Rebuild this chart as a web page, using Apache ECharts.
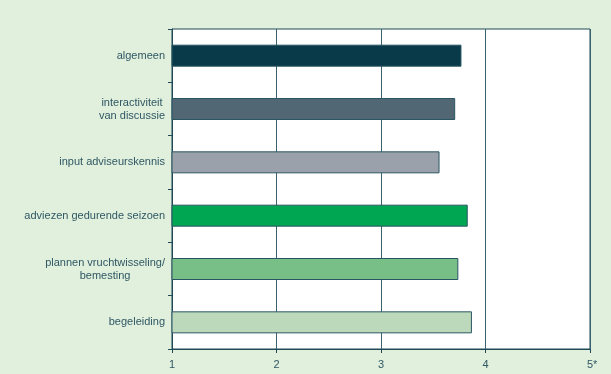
<!DOCTYPE html>
<html>
<head>
<meta charset="utf-8">
<script src="https://cdn.jsdelivr.net/npm/echarts@6/dist/echarts.min.js"></script>
<style>
  html, body { margin: 0; padding: 0; background: #e1efdd; }
  #chart { width: 611px; height: 374px; }
</style>
</head>
<body>
<div id="chart"></div>
<script>
const categories = [
  'algemeen',
  'interactiviteit\nvan discussie',
  'input adviseurskennis',
  'adviezen gedurende seizoen',
  'plannen vruchtwisseling/\nbemesting',
  'begeleiding'
]
const scores = [3.77, 3.71, 3.56, 3.83, 3.74, 3.87]
const barColors = ['#083a4a', '#526774', '#9aa1ab', '#00a651', '#78be87', '#bcdabb']
const tickLabels = ['1', '2', '3', '4', '5']

const chart = echarts.init(document.getElementById('chart'))

const textColor = '#2f5863'
const lineColor = '#1f4a56'

chart.setOption({
  backgroundColor: '#e1efdd',
  animation: false,
  grid: {
    left: 172,
    right: 21,
    top: 29,
    bottom: 25,
    show: true,
    backgroundColor: '#ffffff',
    borderColor: lineColor,
    borderWidth: 1
  },
  xAxis: {
    type: 'value',
    min: 1,
    max: 5,
    interval: 1,
    axisLine: {show: true, lineStyle: {color: lineColor}},
    axisTick: {show: true, length: 4, lineStyle: {color: lineColor}},
    splitLine: {show: true, lineStyle: {color: '#3a6270', width: 1}},
    axisLabel: {
      color: textColor,
      fontFamily: 'Liberation Sans, Arial',
      fontSize: 11,
      margin: 9,
      formatter: (v) => {
        const label = '{n|' + tickLabels[Math.round(v) - 1] + '}'
        // last tick carries an asterisk; a hidden twin keeps the digit centred
        return v === 5 ? '{h|*}' + label + '{s|*}' : label
      },
      rich: {
        n: {fontSize: 11, lineHeight: 14, color: textColor, fontFamily: 'Liberation Sans, Arial'},
        s: {fontSize: 11, lineHeight: 14, color: textColor, fontFamily: 'Liberation Sans, Arial'},
        h: {fontSize: 11, lineHeight: 14, color: 'rgba(0,0,0,0)', fontFamily: 'Liberation Sans, Arial'}
      }
    }
  },
  yAxis: {
    type: 'category',
    inverse: true,
    data: categories,
    axisLine: {show: true, lineStyle: {color: lineColor}},
    axisTick: {show: true, length: 4, lineStyle: {color: lineColor}},
    axisLabel: {
      color: textColor,
      fontFamily: 'Liberation Sans, Arial',
      fontSize: 11,
      lineHeight: 13,
      margin: 7,
      formatter: (v) => v.split('\n').map(s => '{c|' + s + '}').join('\n'),
      rich: {
        c: {align: 'center', fontSize: 11, lineHeight: 13, color: textColor, fontFamily: 'Liberation Sans, Arial'}
      }
    }
  },
  series: [{
    type: 'bar',
    barWidth: 22,
    data: scores.map((v, i) => ({
      value: v,
      itemStyle: {color: barColors[i]}
    })),
    itemStyle: {borderColor: '#2a5562', borderWidth: 1}
  }]
})
</script>
</body>
</html>
